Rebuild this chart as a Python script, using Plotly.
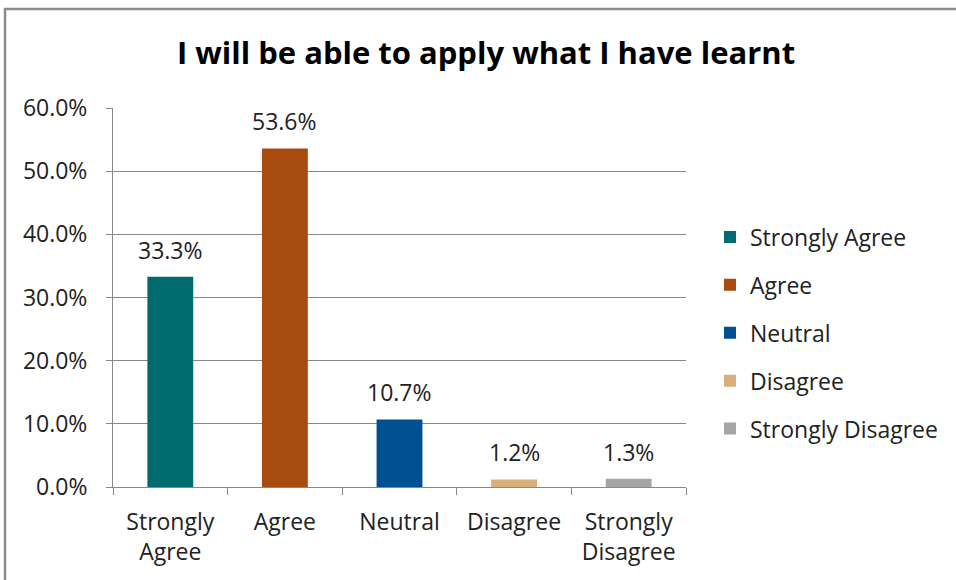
import plotly.graph_objects as go

categories = ["Strongly Agree", "Agree", "Neutral", "Disagree", "Strongly Disagree"]
tick_labels = ["Strongly<br>Agree", "Agree", "Neutral", "Disagree", "Strongly<br>Disagree"]
values = [0.333, 0.536, 0.107, 0.012, 0.013]
colors = ["#006B6F", "#A84B0F", "#004F91", "#D9B07C", "#A5A5A5"]

FONT = "Open Sans"
FS = 23
fig = go.Figure()
for i, (cat, lab, v, c) in enumerate(zip(categories, tick_labels, values, colors)):
    fig.add_trace(go.Bar(
        x=[lab], y=[v], name=cat, marker=dict(color=c, line=dict(width=0)),
        legendgroup=f"g{i}", hoverinfo="skip",
    ))
    fig.add_annotation(x=lab, y=v, text=f"{v*100:.1f}%", showarrow=False,
                       yanchor="bottom", yshift=9,
                       font=dict(family=FONT, size=FS, color="#222"))

W, H = 956, 580
L, R, T, B = 113, 270, 108, 93
pw, ph = W - L - R, H - T - B

# outer chart border
fig.add_shape(type="rect", xref="paper", yref="paper",
              x0=(5 - L) / pw, x1=(W + 20 - L) / pw,
              y0=(H - B - (H + 20)) / ph, y1=(H - B - 9) / ph,
              line=dict(color="#8C8C8C", width=2.5), fillcolor="rgba(0,0,0,0)", layer="above")

fig.update_layout(
    width=W, height=H,
    margin=dict(l=L, r=R, t=T, b=B),
    paper_bgcolor="white", plot_bgcolor="white",
    barmode="overlay", bargap=0.6,
    title=dict(text="<b>I will be able to apply what I have learnt</b>",
               x=486 / W, xanchor="center", xref="container",
               y=1 - 53 / H, yanchor="middle", yref="container",
               font=dict(family=FONT, size=31, color="black")),
    font=dict(family=FONT, size=FS, color="#222"),
    showlegend=True,
    legend=dict(x=(710 - L) / pw, xanchor="left", y=(487 - 333) / ph, yanchor="middle",
                font=dict(family=FONT, size=FS, color="#222"),
                tracegroupgap=15, itemclick=False),
    xaxis=dict(type="category", categoryorder="array", categoryarray=tick_labels,
               showline=True, linecolor="#888", linewidth=1,
               ticks="outside", ticklen=7, tickcolor="#888", tickson="boundaries",
               showgrid=False, tickfont=dict(family=FONT, size=FS, color="#222"),
               ticklabelstandoff=14),
    yaxis=dict(range=[0, 0.6], dtick=0.1, tickformat=".1%",
               showline=True, linecolor="#888", linewidth=1,
               ticks="outside", ticklen=6, tickcolor="#888",
               showgrid=True, gridcolor="#888", gridwidth=1, zeroline=False,
               tickfont=dict(family=FONT, size=FS, color="#222"), ticklabelstandoff=14),
)

fig.write_html("out.html")
